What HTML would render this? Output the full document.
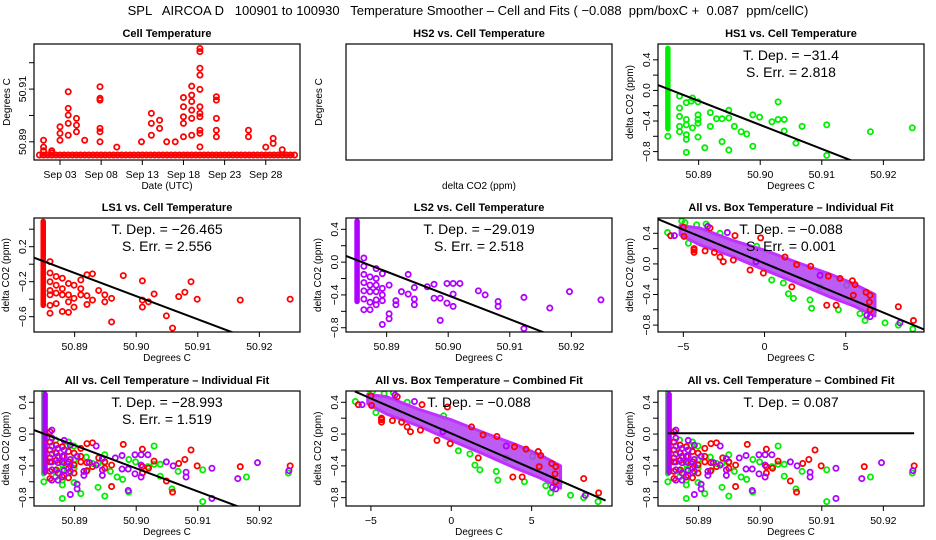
<!DOCTYPE html>
<html><head><meta charset="utf-8"><style>
html,body{margin:0;padding:0;background:#fff;}
svg{display:block;font-family:"Liberation Sans",Arial,sans-serif;}
</style></head><body>
<svg id="chart" width="936" height="540" viewBox="0 0 936 540" xmlns="http://www.w3.org/2000/svg">
<rect x="0" y="0" width="936" height="540" fill="#fff"/>
<text x="468" y="15" font-size="13" text-anchor="middle" style="white-space:pre" xml:space="preserve">SPL   AIRCOA D   100901 to 100930   Temperature Smoother – Cell and Fits ( −0.088  ppm/boxC +  0.087  ppm/cellC)</text>
</svg>
<script>
// ---- data: cell temperature time series (day of Sep, minus 1) ----
const tsDays = [0,0,0, 1,1, 2,2,2, 3,3,3,3,3, 4,4,4, 5, 6.86,6.86,6.86,6.86,6.86,6.86, 8.9, 11.9, 13.1,13.1,13.1, 14.1,14.1, 14.96, 16, 17,17,17,17,17, 18,18,18,18,18,18, 19,19,19,19,19,19,19,19,19,19,19, 21,21,21,21,21, 24.9,24.9, 27, 27.9,27.9, 29];
const tsTemps = [50.8906,50.8880,50.8866, 50.8866,50.8858, 50.8957,50.8932,50.8906, 50.9090,50.9027,50.9001,50.8970,50.8925, 50.8989,50.8963,50.8938, 50.8906, 50.9109,50.9065,50.9058,50.8951,50.8938,50.8900, 50.8880, 50.8900, 50.9008,50.8970,50.8925, 50.8982,50.8951, 50.8900, 50.8900, 50.9068,50.9033,50.8995,50.8970,50.8919, 50.9111,50.9077,50.9053,50.9020,50.8989,50.8925, 50.9254,50.9242,50.9179,50.9153,50.9099,50.9033,50.9008,50.8995,50.8944,50.8932,50.8881, 50.9071,50.9058,50.8989,50.8944,50.8919, 50.8944,50.8919, 50.8880, 50.8913,50.8894, 50.8870];
const tsBaseDays = [-0.5,0,0.5,1,1.5,2,2.5,3,3.5,4,4.5,5,5.5,6,6.5,7,7.5,8,8.5,9,9.5,10,10.5,11,11.5,12,12.5,13,13.5,14,14.5,15,15.5,16,16.5,17,17.5,18,18.5,19,19.5,20,20.5,21,21.5,22,22.5,23,23.5,24,24.5,25,25.5,26,26.5,27,27.5,28,28.5,29,29.5,30,30.5];
const tsBaseline = [50.8850, -0.5, 30.5];
const tsTickDays = [2,7,12,17,22,27];
const tsTickLabels = ["Sep 03","Sep 08","Sep 13","Sep 18","Sep 23","Sep 28"];
// ---- HS1 (green) ----
const hs1X = [50.8850,50.8869,50.8869,50.8869,50.8869,50.8869,50.8880,50.8880,50.8880,50.8880,50.8880,50.8880,50.8888,50.8890,50.8890,50.8899,50.8899,50.8899,50.8899,50.8899,50.8910,50.8919,50.8919,50.8929,50.8938,50.8938,50.8949,50.8949,50.8949,50.8958,50.8969,50.8978,50.8988,50.8988,50.8999,50.9019,50.9029,50.9029,50.9039,50.9039,50.9058,50.9068,50.9108,50.9108,50.9179,50.9247];
const hs1Y = [-0.60,-0.075,-0.23,-0.34,-0.47,-0.54,-0.16,-0.38,-0.45,-0.58,-0.64,-0.81,-0.14,-0.10,-0.49,-0.15,-0.32,-0.38,-0.43,-0.61,-0.75,-0.29,-0.47,-0.37,-0.67,-0.37,-0.26,-0.36,-0.78,-0.47,-0.54,-0.57,-0.32,-0.73,-0.35,-0.41,-0.15,-0.38,-0.38,-0.53,-0.69,-0.47,-0.45,-0.85,-0.54,-0.49];
const hs1Stripe = [50.8850,-0.50,0.55];
// ---- LS1 (red) ----
const ls1X = [50.8860,50.8860,50.8860,50.8860,50.8860,50.8860,50.8860,50.8870,50.8870,50.8870,50.8870,50.8880,50.8880,50.8880,50.8880,50.8890,50.8890,50.8890,50.8890,50.8899,50.8899,50.8899,50.8910,50.8910,50.8910,50.8920,50.8920,50.8920,50.8929,50.8929,50.8939,50.8949,50.8949,50.8960,50.8960,50.8979,50.9010,50.9010,50.9010,50.9020,50.9029,50.9049,50.9059,50.9069,50.9079,50.9089,50.9099,50.9169,50.9250];
const ls1Y = [0.03,-0.10,-0.20,-0.30,-0.35,-0.47,-0.56,-0.14,-0.24,-0.33,-0.45,-0.16,-0.28,-0.35,-0.54,-0.22,-0.35,-0.43,-0.55,-0.24,-0.39,-0.49,-0.18,-0.28,-0.35,-0.12,-0.36,-0.46,-0.11,-0.41,-0.30,-0.35,-0.43,-0.39,-0.66,-0.13,-0.19,-0.41,-0.49,-0.43,-0.34,-0.59,-0.73,-0.37,-0.32,-0.20,-0.40,-0.41,-0.40];
const ls1Stripe = [50.8849,-0.47,0.49];
// ---- LS2 (purple) ----
const ls2X = [50.8863,50.8863,50.8863,50.8863,50.8863,50.8863,50.8863,50.8873,50.8873,50.8873,50.8873,50.8873,50.8883,50.8883,50.8883,50.8883,50.8883,50.8883,50.8893,50.8893,50.8893,50.8893,50.8893,50.8904,50.8904,50.8904,50.8915,50.8915,50.8924,50.8935,50.8935,50.8945,50.8945,50.8945,50.8966,50.8977,50.8977,50.8987,50.8987,50.8998,50.8998,50.9008,50.9008,50.9008,50.9019,50.9049,50.9060,50.9081,50.9081,50.9123,50.9123,50.9165,50.9197,50.9248];
const ls2Y = [0.05,-0.05,-0.15,-0.25,-0.35,-0.45,-0.58,-0.18,-0.28,-0.36,-0.49,-0.58,-0.08,-0.20,-0.28,-0.36,-0.46,-0.52,-0.14,-0.32,-0.40,-0.47,-0.76,-0.28,-0.63,-0.69,-0.47,-0.52,-0.36,-0.15,-0.39,-0.31,-0.45,-0.52,-0.30,-0.27,-0.44,-0.71,-0.44,-0.26,-0.50,-0.26,-0.39,-0.54,-0.26,-0.35,-0.40,-0.48,-0.54,-0.43,-0.81,-0.56,-0.36,-0.46];
const ls2Stripe = [50.8852,-0.48,0.50];
// ---- delta CO2 vs box temperature ----
const boxGreenX = [-5.97,-5.1,-4.9,-4.18,-3.6,-2.74,-4.69,-0.48,0.44,1.16,1.47,1.78,2.8,2.9,3.42,4.55,5.06,5.88,6.19,6.7,7.42,8.24,9.13];
const boxGreenY = [0.41,0.56,0.54,0.51,0.52,0.40,0.27,0.23,-0.21,-0.25,-0.39,-0.45,-0.47,-0.58,-0.30,-0.60,-0.28,-0.65,-0.74,-0.63,-0.77,-0.80,-0.85];
const boxRedX = [-5.78,-5.0,-4.96,-4.34,-4.34,-4.34,-3.66,-3.36,-3.09,-2.54,-2.74,-1.82,-1.92,-0.24,-0.89,-0.07,1.26,1.98,2.84,1.68,3.93,4.65,5.41,5.57,3.83,4.41,5.47,6.25,6.5,6.46,6.5,8.24,9.17];
const boxRedY = [0.37,0.48,0.36,0.18,0.15,0.20,0.17,0.47,0.15,0.03,0.09,0.37,0.05,0.34,-0.08,-0.12,0.09,-0.01,-0.03,-0.30,-0.16,-0.19,-0.22,-0.27,-0.54,-0.54,-0.41,-0.37,-0.41,-0.50,-0.60,-0.56,-0.74];
const boxPurpleX = [-5.55,-3.5,-2.29,-0.52,3.42,6.3,6.5,8.34];
const boxPurpleY = [0.37,0.49,0.41,0.03,-0.15,-0.67,-0.69,-0.77];
const bandX = [-5.2,-4,-2,0,2,4,5.5,6.8];
const bandHi = [0.50,0.47,0.31,0.18,0.02,-0.13,-0.26,-0.40];
const bandLo = [0.38,0.25,0.10,-0.08,-0.25,-0.43,-0.55,-0.68];
// ---- fits ----
const hs1Fit = [-31.4, 50.8834, 0.07];
const ls1Fit = [-26.465, 50.8834, 0.074];
const ls2Fit = [-29.019, 50.8834, 0.075];
const allCellFit = [-28.993, 50.8834, 0.05];
const boxFit = [-0.088, 0, 0.008];
const combinedCellLevel = [0.01, 50.8850, 50.9250];
// ---- ticks ----
const tempTicks = [50.89,50.90,50.91,50.92];
const tempTickLabels = ["50.89","50.90","50.91","50.92"];
const boxTicks = [-5,0,5];
const boxTickLabels = ["−5","0","5"];
const tsYTicks = [50.89,50.90,50.91,50.92];
const tsYLabels = ["50.89","","50.91",""];

const NS = "http://www.w3.org/2000/svg";
const svg = document.getElementById("chart");
const COLS = [34,346,658], ROWS = [44,218,391], ROWH = [116,114,115], W = 266;
const GREEN = "#00ee00", RED = "#ff0000", PURPLE = "#b000ff";
let clipId = 0;
function mk(tag, attrs, parent){ const e = document.createElementNS(NS, tag); for (const k in attrs) e.setAttribute(k, attrs[k]); parent.appendChild(e); return e; }

function panel(name, col, row, xd, yd, title){
  const x0 = COLS[col], y0 = ROWS[row], h = ROWH[row];
  const g = mk("g", {}, svg);
  
  
  const sx = v => x0 + (v - xd[0]) / (xd[1] - xd[0]) * W;
  const sy = v => y0 + h - (v - yd[0]) / (yd[1] - yd[0]) * h;
  const t = mk("text", {x: x0 + W/2, y: y0 - 7, "font-size": 11, "font-weight": "bold", "text-anchor": "middle"}, g);
  t.textContent = title;
  
  
  const cid = "clip" + (clipId++);
  const cp = mk("clipPath", {id: cid}, g);
  mk("rect", {x: x0, y: y0, width: W, height: h}, cp);
  const plot = mk("g", {"clip-path": "url(#" + cid + ")"}, g);
  
  
  const box = mk("rect", {x: x0, y: y0, width: W, height: h, fill: "none", stroke: "#000", "stroke-width": 1.2}, g);
  
  
  return {g, plot, sx, sy, x0, y0, h};
}
function xTicks(p, vals, labels){
  vals.forEach((v, i) => {
    const x = p.sx(v);
    const l = mk("line", {x1: x, x2: x, y1: p.y0 + p.h, y2: p.y0 + p.h + 5, stroke: "#000"}, p.g);
    
    
    const t = mk("text", {x: x, y: p.y0 + p.h + 18, "font-size": 10.5, "text-anchor": "middle"}, p.g);
    t.textContent = labels[i];
    
    
  });
}
function yTicks(p, vals, labels){
  vals.forEach((v, i) => {
    const y = p.sy(v);
    const l = mk("line", {x1: p.x0 - 5, x2: p.x0, y1: y, y2: y, stroke: "#000"}, p.g);
    
    
    if (labels[i]) {
      const t = mk("text", {x: p.x0 - 8, y: y, "font-size": 10.5, "text-anchor": "middle", transform: "rotate(-90 " + (p.x0 - 8) + " " + y + ")"}, p.g);
      t.textContent = labels[i];
      
      
    }
  });
}
function axisTitles(p, xl, yl, ydx){
  const t = mk("text", {x: p.x0 + W/2, y: p.y0 + p.h + 29, "font-size": 10, "text-anchor": "middle"}, p.g);
  t.textContent = xl;
  
  
  const yx = p.x0 - (ydx || 24), yy = p.y0 + p.h/2;
  const u = mk("text", {x: yx, y: yy, "font-size": 10, "text-anchor": "middle", transform: "rotate(-90 " + yx + " " + yy + ")"}, p.g);
  u.textContent = yl;
  
  
}
function dots(p, xs, ys, color, name, r){
  xs.forEach((xv, i) => {
    const c = mk("circle", {cx: p.sx(xv), cy: p.sy(ys[i]), r: r || 2.6, fill: "none", stroke: color, "stroke-width": 1.8}, p.plot);
    
    
  });
}
function stripe(p, s, color, name){
  const l = mk("line", {x1: p.sx(s[0]), x2: p.sx(s[0]), y1: p.sy(s[1]), y2: p.sy(s[2]), stroke: color, "stroke-width": 5.5, "stroke-linecap": "round"}, p.plot);
  
  
}
function fitLine(p, f, xa, xb){
  const ya = f[2] + f[0] * (xa - f[1]), yb = f[2] + f[0] * (xb - f[1]);
  const l = mk("line", {x1: p.sx(xa), y1: p.sy(ya), x2: p.sx(xb), y2: p.sy(yb), stroke: "#000", "stroke-width": 2}, p.plot);
  
  
}
function band(p){
  let d = "";
  bandX.forEach((x, i) => { d += (i ? "L" : "M") + p.sx(x) + "," + p.sy(bandHi[i]); });
  for (let i = bandX.length - 1; i >= 0; i--) d += "L" + p.sx(bandX[i]) + "," + p.sy(bandLo[i]);
  const b = mk("path", {d: d + "Z", fill: "#b040f0", "fill-opacity": 0.85, stroke: "#c030ff", "stroke-width": 3, "stroke-linejoin": "round"}, p.plot);
  
  
}
function notes(p, lines){
  lines.forEach((s, i) => {
    const t = mk("text", {x: p.x0 + W/2, y: p.y0 + 16 + i * 17, "font-size": 14, "text-anchor": "middle"}, p.g);
    t.textContent = s;
    
    
  });
}
const TX = [50.8834, 50.9266];
const dTicks = [-0.8,-0.6,-0.4,-0.2,0.0,0.2,0.4];
const dLabels = ["−0.8","","−0.4","","0.0","","0.4"];

// Panel 1: time series
let p = panel("cell-temperature-panel", 0, 0, [-1.16, 31.16], [50.8831, 50.9271], "Cell Temperature");
const base = mk("line", {x1: p.sx(tsBaseline[1]), x2: p.sx(tsBaseline[2]), y1: p.sy(tsBaseline[0]), y2: p.sy(tsBaseline[0]), stroke: RED, "stroke-width": 3}, p.plot);


dots(p, tsBaseDays, tsBaseDays.map(() => tsBaseline[0]), RED, "cell-temperature-baseline-point");
dots(p, tsDays, tsTemps, RED, "cell-temperature-point");
xTicks(p, tsTickDays, tsTickLabels);
yTicks(p, tsYTicks, tsYLabels);
axisTitles(p, "Date (UTC)", "Degrees C", 24);

// Panel 2: empty HS2
p = panel("hs2-panel", 1, 0, TX, [0, 1], "HS2 vs. Cell Temperature");
axisTitles(p, "delta CO2 (ppm)", "Degrees C", 24);

// Panel 3: HS1
p = panel("hs1-panel", 2, 0, TX, [-0.91, 0.607], "HS1 vs. Cell Temperature");
stripe(p, hs1Stripe, GREEN, "hs1-stripe");
dots(p, hs1X, hs1Y, GREEN, "hs1-point");
fitLine(p, hs1Fit, TX[0], TX[1]);
xTicks(p, tempTicks, tempTickLabels);
yTicks(p, dTicks, dLabels);
axisTitles(p, "Degrees C", "delta CO2 (ppm)", 25);
notes(p, ["T. Dep. =  −31.4", "S. Err. =  2.818"]);

// Panel 4: LS1
p = panel("ls1-panel", 0, 1, TX, [-0.775, 0.528], "LS1 vs. Cell Temperature");
stripe(p, ls1Stripe, RED, "ls1-stripe");
dots(p, ls1X, ls1Y, RED, "ls1-point");
fitLine(p, ls1Fit, TX[0], TX[1]);
xTicks(p, tempTicks, tempTickLabels);
yTicks(p, [-0.6,-0.4,-0.2,0.0,0.2,0.4], ["−0.6","","−0.2","","0.2",""]);
axisTitles(p, "Degrees C", "delta CO2 (ppm)", 25);
notes(p, ["T. Dep. =  −26.465", "S. Err. =  2.556"]);

// Panel 5: LS2
p = panel("ls2-panel", 1, 1, TX, [-0.852, 0.538], "LS2 vs. Cell Temperature");
stripe(p, ls2Stripe, PURPLE, "ls2-stripe");
dots(p, ls2X, ls2Y, PURPLE, "ls2-point");
fitLine(p, ls2Fit, TX[0], TX[1]);
xTicks(p, tempTicks, tempTickLabels);
yTicks(p, dTicks, dLabels);
axisTitles(p, "Degrees C", "delta CO2 (ppm)", 25);
notes(p, ["T. Dep. =  −29.019", "S. Err. =  2.518"]);

// Panel 6: All vs box individual
p = panel("all-box-individual-panel", 2, 1, [-6.56, 9.82], [-0.89, 0.6], "All vs. Box Temperature – Individual Fit");
dots(p, boxGreenX, boxGreenY, GREEN, "hs1-point");
band(p);
dots(p, boxRedX, boxRedY, RED, "ls1-point");
dots(p, boxPurpleX, boxPurpleY, PURPLE, "ls2-point");
fitLine(p, boxFit, -6.56, 9.82);
xTicks(p, boxTicks, boxTickLabels);
yTicks(p, dTicks, dLabels);
axisTitles(p, "Degrees C", "delta CO2 (ppm)", 25);
notes(p, ["T. Dep. =  −0.088", "S. Err. =  0.001"]);

// Panel 7: All vs cell individual
p = panel("all-cell-individual-panel", 0, 2, TX, [-0.905, 0.542], "All vs. Cell Temperature – Individual Fit");
stripe(p, hs1Stripe, GREEN, "hs1-stripe");
stripe(p, ls2Stripe, PURPLE, "ls2-stripe");
dots(p, hs1X, hs1Y, GREEN, "hs1-point");
dots(p, ls1X, ls1Y, RED, "ls1-point");
dots(p, ls2X, ls2Y, PURPLE, "ls2-point");
fitLine(p, allCellFit, TX[0], TX[1]);
xTicks(p, tempTicks, tempTickLabels);
yTicks(p, dTicks, dLabels);
axisTitles(p, "Degrees C", "delta CO2 (ppm)", 25);
notes(p, ["T. Dep. =  −28.993", "S. Err. =  1.519"]);

// Panel 8: All vs box combined
p = panel("all-box-combined-panel", 1, 2, [-6.55, 10.0], [-0.905, 0.542], "All vs. Box Temperature – Combined Fit");
dots(p, boxGreenX, boxGreenY, GREEN, "hs1-point");
band(p);
dots(p, boxRedX, boxRedY, RED, "ls1-point");
dots(p, boxPurpleX, boxPurpleY, PURPLE, "ls2-point");
fitLine(p, boxFit, -6.0, 9.6);
xTicks(p, boxTicks, boxTickLabels);
yTicks(p, dTicks, dLabels);
axisTitles(p, "Degrees C", "delta CO2 (ppm)", 25);
notes(p, ["T. Dep. =  −0.088"]);

// Panel 9: All vs cell combined
p = panel("all-cell-combined-panel", 2, 2, TX, [-0.905, 0.542], "All vs. Cell Temperature – Combined Fit");
stripe(p, hs1Stripe, GREEN, "hs1-stripe");
stripe(p, ls2Stripe, PURPLE, "ls2-stripe");
dots(p, hs1X, hs1Y, GREEN, "hs1-point");
dots(p, ls1X, ls1Y, RED, "ls1-point");
dots(p, ls2X, ls2Y, PURPLE, "ls2-point");
const hl = mk("line", {x1: p.sx(combinedCellLevel[1]), x2: p.sx(combinedCellLevel[2]), y1: p.sy(combinedCellLevel[0]), y2: p.sy(combinedCellLevel[0]), stroke: "#000", "stroke-width": 2}, p.plot);


xTicks(p, tempTicks, tempTickLabels);
yTicks(p, dTicks, dLabels);
axisTitles(p, "Degrees C", "delta CO2 (ppm)", 25);
notes(p, ["T. Dep. =  0.087"]);
</script>
</body></html>
